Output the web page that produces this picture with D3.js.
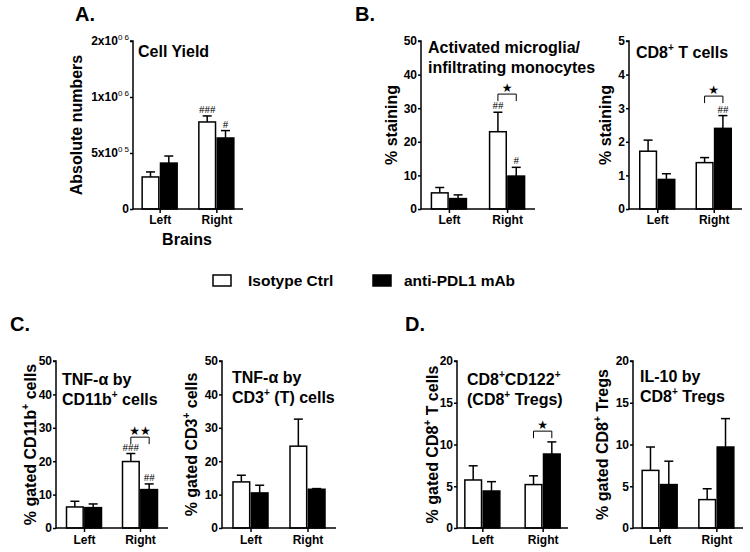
<!DOCTYPE html>
<html><head><meta charset="utf-8">
<script src="https://cdn.jsdelivr.net/npm/d3@7"></script>
<style>
body{margin:0;background:#fff}
svg{display:block}
text{font-family:Arial,"Liberation Sans",sans-serif;font-weight:bold;fill:#000}
</style>
</head><body><svg id="c" width="750" height="552"></svg>
<script>
// ---------------- DATA ----------------
const categories = ["Left", "Right"];
const seriesNames = ["Isotype Ctrl", "anti-PDL1 mAb"];

// A. Cell yield (absolute numbers)
const yieldIso = [2.86e5, 7.77e5], yieldIsoSem = [0.45e5, 0.54e5];
const yieldAnti = [4.1e5, 6.34e5], yieldAntiSem = [0.63e5, 0.66e5];
const yieldTicks = [0, 5e5, 1e6, 2e6];
const yieldTickLabels = [["0", ""], ["5x10", "0 5"], ["1x10", "0 6"], ["2x10", "0 6"]];

// B. Activated microglia / infiltrating monocytes (% staining)
const microIso = [4.8, 23.0], microIsoSem = [1.6, 5.8];
const microAnti = [3.1, 9.8], microAntiSem = [1.1, 2.6];
const microTicks = [0, 10, 20, 30, 40, 50];

// B. CD8+ T cells (% staining)
const cd8Iso = [1.72, 1.38], cd8IsoSem = [0.33, 0.15];
const cd8Anti = [0.88, 2.40], cd8AntiSem = [0.17, 0.38];
const cd8Ticks = [0, 1, 2, 3, 4, 5];

// C. TNF-a by CD11b+ cells
const tnfCd11Iso = [6.3, 19.9], tnfCd11IsoSem = [1.7, 2.4];
const tnfCd11Anti = [6.1, 11.5], tnfCd11AntiSem = [1.1, 1.7];
// C. TNF-a by CD3+ (T) cells
const tnfCd3Iso = [13.8, 24.5], tnfCd3IsoSem = [2.0, 8.1];
const tnfCd3Anti = [10.5, 11.6], tnfCd3AntiSem = [2.3, 0.2];
const tnfTicks = [0, 10, 20, 30, 40, 50];

// D. CD8+CD122+ (CD8+ Tregs)
const tregIso = [5.75, 5.2], tregIsoSem = [1.7, 1.05];
const tregAnti = [4.43, 8.86], tregAntiSem = [1.12, 1.45];
// D. IL-10 by CD8+ Tregs
const il10Iso = [6.9, 3.4], il10IsoSem = [2.8, 1.3];
const il10Anti = [5.2, 9.7], il10AntiSem = [2.8, 3.4];
const tregTicks = [0, 5, 10, 15, 20];

// Annotations (# vs left brain; stars between treatments)
const microHashIso = ["", "##"], microHashAnti = ["", "#"];
const yieldHashIso = ["", "###"], yieldHashAnti = ["", "#"];
const cd8HashIso = ["", ""], cd8HashAnti = ["", "##"];
const tnfCd11HashIso = ["", "###"], tnfCd11HashAnti = ["", "##"];
const microBracket = {cat: "Right", level: 34.2, label: "★"};
const cd8Bracket = {cat: "Right", level: 3.36, label: "★"};
const tnfCd11Bracket = {cat: "Right", level: 27.2, label: "★★"};
const tregBracket = {cat: "Right", level: 11.6, label: "★"};

// ---------------- DRAW ----------------
const svg = d3.select("#c");

function rich(textSel, str, size, supSize, supWeight) {
  // markup: {x} = superscript
  const parts = str.split(/(\{[^}]*\})/).filter(s => s.length);
  let raised = false;
  const rise = size * 0.42;
  parts.forEach(p => {
    if (p.startsWith("{")) {
      const t = textSel.append("tspan").text(p.slice(1, -1))
        .attr("font-size", supSize || size * 0.62).attr("dy", -rise);
      if (supWeight) t.attr("font-weight", supWeight);
      raised = true;
    } else {
      const t = textSel.append("tspan").text(p).attr("font-size", size);
      if (raised) { t.attr("dy", rise); raised = false; }
    }
  });
}

function panel(cfg) {
  const g = svg.append("g");
  const y = d3.scaleLinear().domain(cfg.yDomain).range(cfg.yRange);
  const x = d3.scalePoint().domain(categories).range([cfg.x0, cfg.x1]).padding(cfg.pad);
  const inner = d3.scaleBand().domain(seriesNames).range([-17.5, 17.5]).paddingInner(0.09);
  const bw = inner.bandwidth();
  const y0 = y(0);

  const series = [
    {name: seriesNames[0], vals: cfg.iso, sem: cfg.isoSem, fill: "#fff", hash: cfg.hashIso},
    {name: seriesNames[1], vals: cfg.anti, sem: cfg.antiSem, fill: "#000", hash: cfg.hashAnti}
  ];
  series.forEach(s => {
    categories.forEach((c, i) => {
      const bx = x(c) + inner(s.name);
      const cx = bx + bw / 2;
      const top = y(s.vals[i]);
      const et = y(s.vals[i] + s.sem[i]);
      g.append("line").attr("x1", cx).attr("x2", cx).attr("y1", top).attr("y2", et)
        .attr("stroke", "#000").attr("stroke-width", 1.5);
      g.append("line").attr("x1", cx - 4.5).attr("x2", cx + 4.5).attr("y1", et).attr("y2", et)
        .attr("stroke", "#000").attr("stroke-width", 1.5);
      g.append("rect").attr("x", bx).attr("y", top).attr("width", bw).attr("height", y0 - top)
        .attr("fill", s.fill).attr("stroke", "#000").attr("stroke-width", 1.5);
      if (s.hash && s.hash[i]) {
        g.append("text").attr("x", cx).attr("y", et - 3).attr("text-anchor", "middle")
          .style("font-family", "'Liberation Serif','Times New Roman',serif").style("font-weight", "normal")
          .attr("font-size", 11).text(s.hash[i]);
      }
    });
  });

  if (cfg.bracket) {
    const b = cfg.bracket;
    const xa = x(b.cat) + inner(seriesNames[0]) + bw / 2;
    const xb = x(b.cat) + inner(seriesNames[1]) + bw / 2;
    const yb = y(b.level);
    g.append("path").attr("d", `M${xa},${yb + 7}V${yb}H${xb}V${yb + 7}`)
      .attr("fill", "none").attr("stroke", "#000").attr("stroke-width", 1);
    g.append("text").attr("x", (xa + xb) / 2).attr("y", yb - 2).attr("text-anchor", "middle")
      .style("font-family", "'DejaVu Sans',sans-serif").attr("font-size", 12).text(b.label);
  }

  // axes
  const yAxis = g.append("g").attr("transform", `translate(${cfg.x0},0)`)
    .call(d3.axisLeft(y).tickValues(cfg.ticks).tickSize(3).tickFormat(cfg.tickLabels ? "" : d3.format("d")));
  yAxis.select(".domain").attr("stroke-width", 1.5).attr("d", `M0,${y0 + 0.75}V${cfg.yRange[cfg.yRange.length - 1]}H-3`);
  yAxis.selectAll(".tick line").attr("stroke-width", 1.5);
  yAxis.selectAll(".tick text").attr("font-size", 12).attr("x", -4)
    .style("font-family", "Arial,'Liberation Sans',sans-serif").style("font-weight", "bold");
  if (cfg.tickLabels) {
    yAxis.selectAll(".tick text").each(function(d, i) {
      const t = d3.select(this);
      const lab = cfg.tickLabels[i];
      t.append("tspan").attr("font-size", 12).text(lab[0]);
      if (lab[1]) t.append("tspan").attr("font-size", 8).attr("dy", -5).attr("font-weight", "normal").text(lab[1]);
    });
  }
  const xAxis = g.append("g").attr("transform", `translate(0,${y0})`)
    .call(d3.axisBottom(x).tickSize(4).tickSizeOuter(0));
  xAxis.select(".domain").attr("stroke-width", 1.5).attr("d", `M${cfg.x0},0H${cfg.x1}`);
  xAxis.selectAll(".tick line").attr("stroke-width", 1.5);
  xAxis.selectAll(".tick text").attr("font-size", 12).attr("y", cfg.catDy).attr("dy", 0)
    .style("font-family", "Arial,'Liberation Sans',sans-serif").style("font-weight", "bold");

  // y label
  const cy = (y0 + cfg.yRange[cfg.yRange.length - 1]) / 2;
  const yl = g.append("text").attr("text-anchor", "middle")
    .attr("transform", `translate(${cfg.ylx + 5},${cy}) rotate(-90)`);
  rich(yl, cfg.ylabel, 16, 10);

  // title
  cfg.title.forEach((line, i) => {
    const t = g.append("text").attr("x", cfg.tx).attr("y", cfg.ty + i * 20);
    rich(t, line, 16, 10);
  });
}

const topR = [209, 41], botR = [528, 361];

panel({x0: 133, x1: 243, pad: 0.47, yDomain: [0, 1e6, 2e6], yRange: [209, 97, 41],
  ticks: yieldTicks, tickLabels: yieldTickLabels, iso: yieldIso, isoSem: yieldIsoSem,
  anti: yieldAnti, antiSem: yieldAntiSem, hashIso: yieldHashIso, hashAnti: yieldHashAnti,
  ylabel: "Absolute numbers", ylx: 77, title: ["Cell Yield"], tx: 138, ty: 57, catDy: 15});

panel({x0: 421, x1: 535, pad: 0.48, yDomain: [0, 50], yRange: topR, ticks: microTicks,
  iso: microIso, isoSem: microIsoSem, anti: microAnti, antiSem: microAntiSem,
  hashIso: microHashIso, hashAnti: microHashAnti, bracket: microBracket,
  ylabel: "% staining", ylx: 392, title: ["Activated microglia/", "infiltrating monocytes"], tx: 428, ty: 53, catDy: 15});

panel({x0: 629, x1: 742, pad: 0.5, yDomain: [0, 5], yRange: topR, ticks: cd8Ticks,
  iso: cd8Iso, isoSem: cd8IsoSem, anti: cd8Anti, antiSem: cd8AntiSem,
  hashIso: cd8HashIso, hashAnti: cd8HashAnti, bracket: cd8Bracket,
  ylabel: "% staining", ylx: 606, title: ["CD8{+} T cells"], tx: 636, ty: 58, catDy: 15});

panel({x0: 56, x1: 168, pad: 0.5, yDomain: [0, 50], yRange: botR, ticks: tnfTicks,
  iso: tnfCd11Iso, isoSem: tnfCd11IsoSem, anti: tnfCd11Anti, antiSem: tnfCd11AntiSem,
  hashIso: tnfCd11HashIso, hashAnti: tnfCd11HashAnti, bracket: tnfCd11Bracket,
  ylabel: "% gated CD11b{+} cells", ylx: 31, title: ["TNF-α by", "CD11b{+} cells"], tx: 62, ty: 385, catDy: 16});

panel({x0: 222, x1: 336, pad: 0.5, yDomain: [0, 50], yRange: botR, ticks: tnfTicks,
  iso: tnfCd3Iso, isoSem: tnfCd3IsoSem, anti: tnfCd3Anti, antiSem: tnfCd3AntiSem,
  ylabel: "% gated CD3{+} cells", ylx: 192, title: ["TNF-α by", "CD3{+} (T) cells"], tx: 232, ty: 383, catDy: 16});

panel({x0: 457, x1: 568, pad: 0.42, yDomain: [0, 20], yRange: botR, ticks: tregTicks,
  iso: tregIso, isoSem: tregIsoSem, anti: tregAnti, antiSem: tregAntiSem, bracket: tregBracket,
  ylabel: "% gated CD8{+} T cells", ylx: 433, title: ["CD8{+}CD122{+}", "(CD8{+} Tregs)"], tx: 467, ty: 385, catDy: 16});

panel({x0: 633, x1: 743, pad: 0.47, yDomain: [0, 20], yRange: botR, ticks: tregTicks,
  iso: il10Iso, isoSem: il10IsoSem, anti: il10Anti, antiSem: il10AntiSem,
  ylabel: "% gated CD8{+} Tregs", ylx: 603, title: ["IL-10 by", "CD8{+} Tregs"], tx: 640, ty: 382, catDy: 16});

// x-axis title for A
svg.append("text").attr("x", 187).attr("y", 245).attr("text-anchor", "middle").attr("font-size", 16).text("Brains");

// panel letters
[["A.", 75, 21], ["B.", 355, 21], ["C.", 10, 331], ["D.", 405, 331]].forEach(([t, px, py]) =>
  svg.append("text").attr("x", px).attr("y", py).attr("font-size", 20).text(t));

// legend
const leg = svg.append("g");
const legX = [213, 373];
seriesNames.forEach((n, i) => {
  leg.append("rect").attr("x", legX[i]).attr("y", 275).attr("width", 18).attr("height", 11)
    .attr("fill", i ? "#000" : "#fff").attr("stroke", "#000").attr("stroke-width", 1.5);
  leg.append("text").attr("x", legX[i] + (i ? 31 : 35)).attr("y", 286).attr("font-size", 15.5).text(n);
});
</script>
</body></html>
